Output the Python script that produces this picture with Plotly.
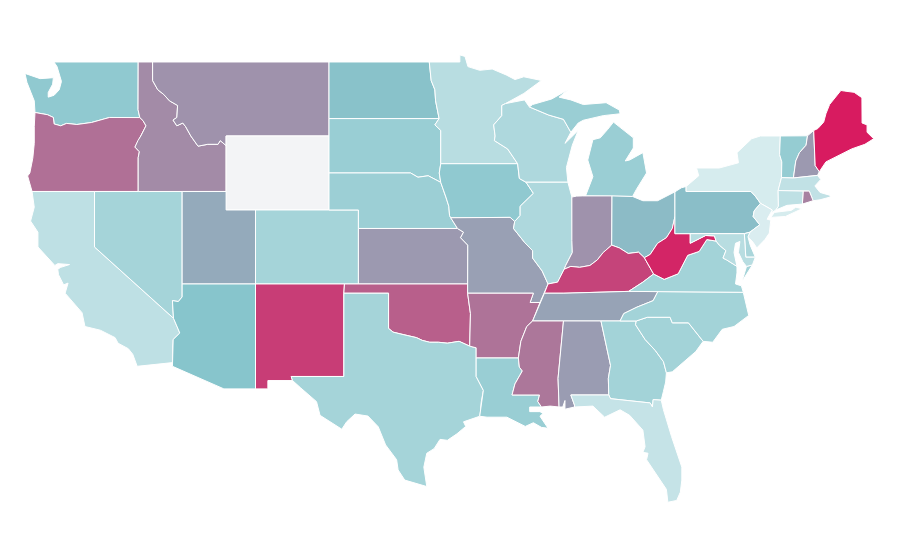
import plotly.graph_objects as go
from plotly.colors import sample_colorscale

# State codes and values (None = no data)
states = ["WA","OR","CA","NV","ID","MT","WY","UT","AZ","CO","NM","ND","SD","NE","KS","OK","TX","MN","IA","MO","AR","LA","WI","IL","MI","IN","OH","KY","TN","MS","AL","GA","FL","SC","NC","VA","WV","PA","NY","VT","NH","ME","MA","RI","CT","NJ","DE","MD"]
values = [45,75,19,33,67,65,None,58,50,33,90,51,40,38,63,80,33,22,45,61,74,40,28,28,39,65,53,88,60,73,62,34,15,34,34,34,97,52,5,42,63,100,17,70,19,3,30,22]
colorscale = [[0,"#dff0f2"],[0.5,"#87c5cc"],[1,"#d81b60"]]
missing_colour = "#f3f4f6"

# State outlines in (longitude, latitude), estimated
outlines = {
"WA":[[(-122.76,49),(-117.03,49),(-117.04,46.42),(-116.92,45.995),(-118.98,46),(-119.3,45.93),(-120.2,45.73),(-121.2,45.62),(-121.9,45.68),(-122.3,45.55),(-122.75,45.65),(-122.8,46),(-123.2,46.15),(-123.9,46.25),(-124.05,46.27),(-124.1,46.9),(-124.3,47.3),(-124.6,47.9),(-124.73,48.38),(-123.7,48.1),(-122.8,48.15),(-122.85,47.8),(-123.15,47.35),(-123.15,47.1),(-122.75,47.2),(-122.4,47.5),(-122.25,47.95),(-122.4,48.3),(-122.55,48.75)]],
"OR":[[(-124.05,46.27),(-123.9,46.25),(-123.2,46.15),(-122.8,46),(-122.75,45.65),(-122.3,45.55),(-121.9,45.68),(-121.2,45.62),(-120.2,45.73),(-119.3,45.93),(-118.98,46),(-116.92,45.995),(-116.7,45.83),(-116.5,45.55),(-116.85,45),(-117.05,44.75),(-117.25,44.4),(-116.95,44.15),(-117.03,43.83),(-117.03,42),(-124.25,42),(-124.55,42.84),(-124.4,43),(-124.2,43.8),(-124.1,44.6),(-124.1,45.5)]],
"CA":[[(-124.25,42),(-120,42),(-120,39),(-114.63,35.15),(-114.2,34.35),(-114.65,34),(-114.7,33.2),(-114.7,32.75),(-117.1,32.55),(-117.4,33.2),(-117.7,33.5),(-118.4,33.8),(-118.6,34.1),(-119.6,34.5),(-120.65,34.7),(-120.85,35.45),(-122,36.5),(-121.8,37.05),(-122.1,36.95),(-122.45,37.5),(-122.5,37.8),(-122.3,37.9),(-121.7,38.05),(-122.25,38.1),(-122.5,38.1),(-122.7,38),(-123.85,39),(-123.85,39.8),(-124.35,40.4),(-124.1,41.15)]],
"NV":[[(-120,42),(-114.04,42),(-114.04,36.3),(-114.3,36.05),(-114.7,36.1),(-114.63,35.15),(-120,39)]],
"ID":[[(-117.03,49),(-116.05,49),(-116.05,48),(-115.7,47.5),(-115.3,47.25),(-114.9,46.9),(-114.35,46.65),(-114.4,46),(-114.66,45.86),(-114.4,45.55),(-114,45.7),(-113.8,45.5),(-113.45,45),(-113.1,44.6),(-112.96,44.45),(-112.3,44.55),(-111.6,44.55),(-111.45,44.75),(-111.05,44.48),(-111.05,42),(-117.03,42),(-117.03,43.83),(-116.95,44.15),(-117.25,44.4),(-117.05,44.75),(-116.85,45),(-116.5,45.55),(-116.7,45.83),(-116.92,45.995),(-117.04,46.42)]],
"MT":[[(-116.05,49),(-104.05,49),(-104.05,45),(-111.05,45),(-111.05,44.48),(-111.45,44.75),(-111.6,44.55),(-112.3,44.55),(-112.96,44.45),(-113.1,44.6),(-113.45,45),(-113.8,45.5),(-114,45.7),(-114.4,45.55),(-114.66,45.86),(-114.4,46),(-114.35,46.65),(-114.9,46.9),(-115.3,47.25),(-115.7,47.5),(-116.05,48)]],
"WY":[[(-111.05,45),(-104.05,45),(-104.05,41),(-111.05,41)]],
"UT":[[(-114.04,42),(-111.05,42),(-111.05,41),(-109.05,41),(-109.05,37),(-114.04,37)]],
"AZ":[[(-114.04,37),(-109.05,37),(-109.05,31.33),(-111.2,31.33),(-114.7,32.55),(-114.7,32.75),(-114.7,33.2),(-114.65,34),(-114.2,34.35),(-114.63,35.15),(-114.7,36.1),(-114.3,36.05),(-114.04,36.3)]],
"CO":[[(-109.05,41),(-102.05,41),(-102.05,37),(-109.05,37)]],
"NM":[[(-109.05,37),(-103,37),(-103.04,36.5),(-103.04,32),(-106.62,32),(-106.53,31.78),(-108.21,31.78),(-108.21,31.33),(-109.05,31.33)]],
"ND":[[(-104.05,49),(-97.23,49),(-97.1,48),(-96.85,47.5),(-96.8,46.9),(-96.56,45.94),(-104.05,45.94)]],
"SD":[[(-104.05,45.94),(-96.56,45.94),(-96.85,45.6),(-96.45,45.3),(-96.45,43.5),(-96.55,43),(-96.45,42.49),(-96.7,42.6),(-97.3,42.85),(-98,42.77),(-98.5,43),(-104.05,43)]],
"NE":[[(-104.05,43),(-98.5,43),(-98,42.77),(-97.3,42.85),(-96.7,42.6),(-96.45,42.49),(-96.1,41.7),(-95.9,41.2),(-95.85,40.7),(-95.77,40.58),(-95.31,40),(-102.05,40),(-102.05,41),(-104.05,41)]],
"KS":[[(-102.05,40),(-95.31,40),(-94.9,39.8),(-95.1,39.5),(-94.61,39.1),(-94.62,37),(-102.05,37)]],
"OK":[[(-103,37),(-94.62,37),(-94.62,36.5),(-94.43,35.4),(-94.48,33.64),(-95.2,33.9),(-96,33.8),(-96.6,33.85),(-97.2,33.85),(-97.7,33.95),(-98.1,34.1),(-99.2,34.3),(-99.7,34.4),(-100,34.6),(-100,36.5),(-103.04,36.5)]],
"TX":[[(-103.04,36.5),(-100,36.5),(-100,34.6),(-99.7,34.4),(-99.2,34.3),(-98.1,34.1),(-97.7,33.95),(-97.2,33.85),(-96.6,33.85),(-96,33.8),(-95.2,33.9),(-94.48,33.64),(-94.04,33.55),(-94.04,33),(-94.04,32),(-93.55,31.25),(-93.7,30.6),(-93.75,30.1),(-93.8,29.85),(-94.9,29.55),(-94.75,29.3),(-95.35,28.9),(-96,28.55),(-96.5,28.6),(-96.9,28.1),(-97.4,27.85),(-97.6,27.1),(-97.4,26.05),(-98.9,26.4),(-99.35,26.95),(-99.45,27.5),(-100.2,28.3),(-100.7,29.28),(-101.4,29.86),(-102.28,29.97),(-102.85,29.55),(-103.18,29.15),(-104.66,29.9),(-104.9,30.64),(-106,31.4),(-106.53,31.78),(-106.62,32),(-103.04,32)]],
"MN":[[(-97.23,49),(-95.15,49),(-95.15,49.38),(-94.8,49.3),(-94.6,48.75),(-93.8,48.55),(-92.95,48.62),(-92,48.3),(-91.4,48.05),(-90.8,48.2),(-89.6,48),(-90.8,47.3),(-92.05,46.75),(-92.3,46.65),(-92.3,46.1),(-92.85,45.6),(-92.75,45),(-92.8,44.75),(-91.9,44.3),(-91.22,43.5),(-96.45,43.5),(-96.45,45.3),(-96.85,45.6),(-96.56,45.94),(-96.8,46.9),(-96.85,47.5),(-97.1,48)]],
"IA":[[(-96.45,43.5),(-91.22,43.5),(-91.1,42.7),(-90.65,42.5),(-90.15,41.9),(-91.05,41.2),(-91.05,40.7),(-91.42,40.38),(-91.73,40.6),(-95.77,40.58),(-95.85,40.7),(-95.9,41.2),(-96.1,41.7),(-96.45,42.49),(-96.55,43)]],
"MO":[[(-95.77,40.58),(-91.73,40.6),(-91.42,40.38),(-91.5,40),(-90.75,39.25),(-90.2,38.8),(-90.2,38.4),(-89.55,37.7),(-89.15,37),(-89.4,36.5),(-89.7,36),(-90.37,36),(-90.15,36.5),(-94.62,36.5),(-94.62,37),(-94.61,39.1),(-95.1,39.5),(-94.9,39.8),(-95.31,40)]],
"AR":[[(-94.62,36.5),(-90.15,36.5),(-90.37,36),(-89.7,36),(-90.2,35),(-90.6,34.7),(-91,33.9),(-91.17,33),(-94.04,33),(-94.04,33.55),(-94.48,33.64),(-94.43,35.4)]],
"LA":[[(-94.04,33),(-91.17,33),(-91.1,32.5),(-90.9,32.3),(-91.4,31.6),(-91.6,31),(-89.73,31),(-89.85,30.65),(-89.6,30.35),(-90.4,30.35),(-90.4,30.1),(-89.7,30.1),(-89.5,30),(-89.7,29.85),(-89.15,29.2),(-89.6,29.25),(-90.15,29.5),(-90.7,29.3),(-91.95,29.8),(-93.3,29.8),(-93.8,29.85),(-93.75,30.1),(-93.7,30.6),(-93.55,31.25),(-94.04,32)]],
"WI":[[(-92.05,46.75),(-91.2,46.87),(-90.75,46.95),(-90.42,46.57),(-89.1,46.13),(-88.1,45.9),(-87.6,45.2),(-88,44.6),(-87.1,45.3),(-87.5,44.5),(-87.9,43.3),(-87.8,42.5),(-90.65,42.5),(-91.1,42.7),(-91.22,43.5),(-91.9,44.3),(-92.8,44.75),(-92.75,45),(-92.85,45.6),(-92.3,46.1),(-92.3,46.65)]],
"IL":[[(-90.65,42.5),(-87.8,42.5),(-87.53,41.7),(-87.53,39.35),(-87.5,38.7),(-87.95,38),(-88.05,37.8),(-88.5,37.1),(-89.15,37),(-89.55,37.7),(-90.2,38.4),(-90.2,38.8),(-90.75,39.25),(-91.5,40),(-91.42,40.38),(-91.05,40.7),(-91.05,41.2),(-90.15,41.9)]],
"MI":[[(-86.6,41.76),(-84.8,41.76),(-83.4,41.73),(-83.15,42.1),(-82.45,43),(-82.7,44.1),(-83.6,43.7),(-83.9,43.65),(-83.35,44.35),(-83.35,44.9),(-84.7,45.75),(-85.1,45.35),(-85.6,44.9),(-86.1,44.8),(-86.45,43.7),(-86.1,42.8),(-86.5,41.9)],[(-90.42,46.57),(-89.1,46.13),(-88.1,45.9),(-87.6,45.2),(-87.1,45.7),(-86.75,45.85),(-85.4,46.1),(-84.25,46.2),(-84.3,46.4),(-85.2,46.8),(-86.75,46.7),(-87.6,46.95),(-88.4,47.1),(-87.8,47.5),(-88.9,47),(-90.2,46.7)]],
"IN":[[(-87.53,41.7),(-87.2,41.75),(-86.82,41.76),(-84.8,41.76),(-84.82,39.1),(-85.4,38.7),(-85.8,38.3),(-86.3,38),(-87,37.9),(-87.6,37.95),(-88.05,37.8),(-87.95,38),(-87.5,38.7),(-87.53,39.35)]],
"OH":[[(-84.8,41.76),(-83.4,41.73),(-82.7,41.5),(-81.7,41.5),(-80.52,41.98),(-80.52,40.64),(-80.7,40),(-81.1,39.5),(-81.7,39.2),(-82.2,38.6),(-82.6,38.42),(-83,38.72),(-83.7,38.65),(-84.3,38.95),(-84.82,39.1)]],
"KY":[[(-84.82,39.1),(-84.3,38.95),(-83.7,38.65),(-83,38.72),(-82.6,38.42),(-81.97,37.54),(-82.7,37.1),(-83.67,36.6),(-88.07,36.5),(-89.4,36.5),(-89.15,37),(-88.5,37.1),(-88.05,37.8),(-87.6,37.95),(-87,37.9),(-86.3,38),(-85.8,38.3),(-85.4,38.7)]],
"TN":[[(-89.4,36.5),(-88.07,36.5),(-83.67,36.6),(-81.68,36.59),(-82,36.1),(-83.1,35.75),(-84,35.4),(-84.25,35),(-90.2,35),(-89.7,36)]],
"MS":[[(-90.2,35),(-88.1,35),(-88.47,31.9),(-88.4,30.35),(-89,30.4),(-89.6,30.35),(-89.85,30.65),(-89.73,31),(-91.6,31),(-91.4,31.6),(-90.9,32.3),(-91.1,32.5),(-91.17,33),(-91,33.9),(-90.6,34.7)]],
"AL":[[(-88.1,35),(-85.55,35),(-84.9,32.6),(-85.05,31.9),(-85.02,31),(-87.6,31),(-87.35,30.45),(-87.35,30.35),(-88,30.23),(-88,30.7),(-88.15,30.35),(-88.4,30.35),(-88.47,31.9)]],
"GA":[[(-85.55,35),(-83.15,35),(-83.2,34.8),(-82.55,34),(-81.85,33.4),(-81.3,32.8),(-81.1,32.2),(-81.15,31.7),(-81.3,31.2),(-81.45,30.72),(-82,30.75),(-82.05,30.35),(-82.2,30.57),(-84.9,30.8),(-85.02,31),(-85.05,31.9),(-84.9,32.6)]],
"FL":[[(-87.6,31),(-85.02,31),(-84.9,30.8),(-82.2,30.57),(-82.05,30.35),(-82,30.75),(-81.45,30.72),(-81.3,30.2),(-80.75,28.75),(-80.05,27.1),(-80.05,26.4),(-80.15,25.75),(-80.4,25.3),(-81,25.2),(-81.1,25.9),(-81.9,26.85),(-82.45,27.5),(-82.35,27.85),(-82.7,27.9),(-82.55,28.2),(-82.7,29.1),(-83.6,29.9),(-84.25,30.2),(-85.3,29.8),(-86.1,30.4),(-87.35,30.35),(-87.35,30.45)]],
"SC":[[(-83.15,35),(-82.4,35.2),(-80.85,35.2),(-80.7,34.9),(-79.6,34.9),(-78.6,33.9),(-79.1,33.35),(-79.95,32.75),(-80.7,32.25),(-81.1,32.2),(-81.3,32.8),(-81.85,33.4),(-82.55,34),(-83.2,34.8)]],
"NC":[[(-84.25,35),(-84,35.4),(-83.1,35.75),(-82,36.1),(-81.68,36.59),(-75.87,36.55),(-75.5,35.3),(-76.5,34.7),(-77.3,34.55),(-77.95,33.85),(-78.6,33.9),(-79.6,34.9),(-80.7,34.9),(-80.85,35.2),(-82.4,35.2),(-83.15,35)]],
"VA":[[(-83.67,36.6),(-81.68,36.59),(-75.87,36.55),(-76,36.9),(-76.4,37),(-76.3,37.6),(-76.3,37.95),(-77,38.3),(-77.25,38.4),(-77.05,38.8),(-77.5,39.1),(-77.72,39.32),(-78.35,39.4),(-78.87,38.76),(-79.65,38.55),(-80.3,37.55),(-81.25,37.25),(-81.97,37.54),(-82.7,37.1)],[(-75.65,37.95),(-75.25,38.03),(-75.95,37.15)]],
"WV":[[(-82.6,38.42),(-82.2,38.6),(-81.7,39.2),(-81.1,39.5),(-80.7,40),(-80.52,40.64),(-80.52,39.72),(-79.48,39.72),(-79.48,39.2),(-78.43,39.62),(-77.83,39.6),(-77.72,39.32),(-78.35,39.4),(-78.87,38.76),(-79.65,38.55),(-80.3,37.55),(-81.25,37.25),(-81.97,37.54)]],
"PA":[[(-80.52,41.98),(-80.08,42.2),(-79.76,42.27),(-79.76,42),(-75.35,42),(-75.05,41.75),(-74.7,41.36),(-75.13,40.95),(-75.2,40.65),(-74.75,40.2),(-75.42,39.8),(-75.8,39.72),(-80.52,39.72)]],
"NY":[[(-79.76,42),(-79.76,42.27),(-78.9,42.85),(-79.05,43.27),(-77.5,43.27),(-76.4,43.5),(-76.2,43.55),(-76.3,44.1),(-75.3,44.85),(-74.7,45),(-73.35,45),(-73.4,44),(-73.25,43.6),(-73.27,42.75),(-73.5,42.05),(-73.48,41.2),(-73.65,41),(-73.95,40.85),(-73.9,41),(-74.7,41.36),(-75.05,41.75),(-75.35,42)],[(-74,40.6),(-73.75,40.87),(-72.6,40.98),(-72.3,41.15),(-71.87,41.07),(-73,40.65)]],
"VT":[[(-73.35,45),(-71.5,45.01),(-71.6,44.5),(-72.05,44.1),(-72.3,43.65),(-72.46,42.73),(-73.27,42.75),(-73.25,43.6),(-73.4,44)]],
"NH":[[(-71.5,45.01),(-71.08,45.3),(-70.98,43.4),(-70.7,43.07),(-70.82,42.87),(-72.46,42.73),(-72.3,43.65),(-72.05,44.1),(-71.6,44.5)]],
"ME":[[(-71.08,45.3),(-70.8,45.4),(-70.4,45.75),(-70.25,46.2),(-70,46.7),(-69.23,47.46),(-69,47.43),(-68.33,47.36),(-67.8,47.07),(-67.79,45.7),(-67.45,45.6),(-67.45,45.2),(-67,44.85),(-67.6,44.55),(-68.5,44.3),(-69,44.1),(-69.8,43.75),(-70.25,43.6),(-70.7,43.07),(-70.98,43.4)]],
"MA":[[(-73.5,42.05),(-73.27,42.75),(-72.46,42.73),(-70.82,42.87),(-70.6,42.65),(-71,42.3),(-70.65,41.95),(-70,41.8),(-70.05,42.05),(-69.95,41.7),(-70.65,41.55),(-71.12,41.5),(-71.38,42.02),(-71.8,42.02)]],
"RI":[[(-71.8,42.02),(-71.38,42.02),(-71.12,41.5),(-71.85,41.32)]],
"CT":[[(-73.5,42.05),(-71.8,42.02),(-71.85,41.32),(-72.9,41.25),(-73.65,41),(-73.48,41.2)]],
"NJ":[[(-74.7,41.36),(-73.9,41),(-74.25,40.5),(-74,40.45),(-74.1,39.75),(-74.4,39.4),(-74.95,38.95),(-75.2,39.25),(-75.55,39.55),(-75.42,39.8),(-74.75,40.2),(-75.2,40.65),(-75.13,40.95)]],
"DE":[[(-75.8,39.72),(-75.42,39.8),(-75.55,39.55),(-75.4,39.1),(-75.05,38.45),(-75.7,38.45)]],
"MD":[[(-79.48,39.72),(-75.8,39.72),(-75.7,38.45),(-75.05,38.45),(-75.25,38.03),(-75.65,37.95),(-75.9,38.2),(-76.2,38.7),(-76.1,39.3),(-76.4,39.2),(-76.5,38.7),(-76.4,38.2),(-76.3,37.95),(-77,38.3),(-77.25,38.4),(-77.05,38.8),(-77.5,39.1),(-77.72,39.32),(-77.83,39.6),(-78.43,39.62),(-79.48,39.2)]],
}

fig = go.Figure()
for state, value in zip(states, values):
    lon, lat = [], []
    for ring in outlines[state]:
        closed = ring + [ring[0]]
        lon += [p[0] for p in closed] + [None]
        lat += [p[1] for p in closed] + [None]
    colour = missing_colour if value is None else sample_colorscale(colorscale, value / 100)[0]
    fig.add_trace(go.Scatter(x=lon, y=lat, mode="lines", fill="toself", fillcolor=colour,
                             line=dict(color="white", width=1), name=state, showlegend=False,
                             hoveron="fills", hoverinfo="name"))

fig.update_layout(width=892, height=552, margin=dict(l=0, r=0, t=0, b=0),
                  paper_bgcolor="white", plot_bgcolor="white", showlegend=False,
                  xaxis=dict(range=[-125.886, -65.21], visible=False, fixedrange=True),
                  yaxis=dict(range=[22.08, 51.918], visible=False, fixedrange=True))
fig.write_html("out.html", config=dict(displayModeBar=False))
